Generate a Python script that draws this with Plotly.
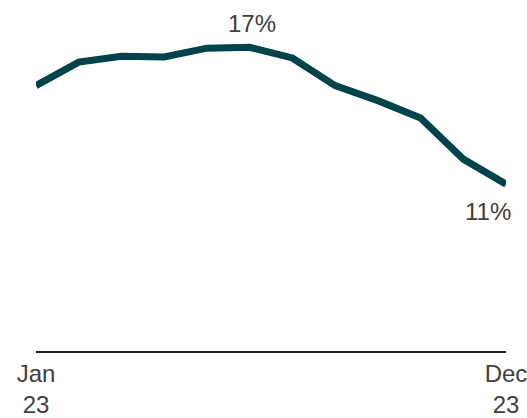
import plotly.graph_objects as go

# Monthly share, 2023
months = ["Jan", "Feb", "Mar", "Apr", "May", "Jun", "Jul", "Aug", "Sep", "Oct", "Nov", "Dec"]
share = [15.32, 16.35, 16.6, 16.57, 16.96, 17.0, 16.53, 15.32, 14.66, 13.9, 12.1, 11.0]

tick_vals = ["Jan", "Dec"]
tick_text = ["Jan<br>23", "Dec<br>23"]

LINE = "#00434A"
TEXT = "#404040"
FONT = "Liberation Sans, Arial, sans-serif"

fig = go.Figure()
fig.add_trace(go.Scatter(
    x=months, y=share, mode="lines",
    line=dict(color=LINE, width=7),
    hoverinfo="skip",
))

# value labels at the peak and at the last month
peak_i = share.index(max(share))
fig.add_annotation(x=months[peak_i], y=share[peak_i], text=f"{share[peak_i]:.0f}%",
                   showarrow=False, yanchor="bottom", yshift=8, xshift=2,
                   font=dict(family=FONT, size=24, color=TEXT))
fig.add_annotation(x=months[-1], y=share[-1], text=f"{share[-1]:.0f}%",
                   showarrow=False, yanchor="top", yshift=-12, xshift=-18,
                   font=dict(family=FONT, size=24, color=TEXT))

fig.update_layout(
    width=527, height=418,
    margin=dict(l=36, r=19, t=0, b=66),
    paper_bgcolor="white", plot_bgcolor="white",
    showlegend=False,
    font=dict(family=FONT, size=24, color=TEXT),
)
fig.update_xaxes(
    range=[0, 11], type="category",
    tickmode="array", tickvals=tick_vals, ticktext=tick_text,
    showline=True, linecolor="#222222", linewidth=2,
    showgrid=False, zeroline=False, ticks="",
    tickfont=dict(family=FONT, size=24, color=TEXT),
)
fig.update_yaxes(range=[3.69, 19.07], visible=False, showgrid=False, zeroline=False)

fig.write_html("out.html")
